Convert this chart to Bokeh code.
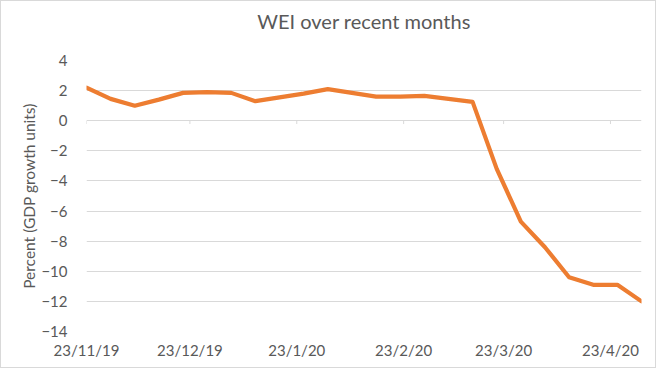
from datetime import datetime
from bokeh.plotting import figure
from bokeh.models import Range1d, FixedTicker, Title
from bokeh.embed import file_html
from bokeh.resources import INLINE

# ---- data ----
week_dates = ["2019-11-23", "2019-11-30", "2019-12-07", "2019-12-14", "2019-12-21",
              "2019-12-28", "2020-01-04", "2020-01-11", "2020-01-18", "2020-01-25",
              "2020-02-01", "2020-02-08", "2020-02-15", "2020-02-22", "2020-02-29",
              "2020-03-07", "2020-03-14", "2020-03-21", "2020-03-28", "2020-04-04",
              "2020-04-11", "2020-04-18", "2020-04-25", "2020-05-02"]
wei_values = [2.2, 1.45, 1.0, 1.4, 1.85, 1.9, 1.85, 1.3, 1.55, 1.8,
              2.1, 1.85, 1.6, 1.6, 1.65, 1.45, 1.25, -3.2, -6.7, -8.4,
              -10.4, -10.9, -10.9, -12.0]
tick_labels = ["23/11/19", "23/12/19", "23/1/20", "23/2/20", "23/3/20", "23/4/20"]
y_ticks = [-14, -12, -10, -8, -6, -4, -2, 0, 2, 4]

dates = [datetime.strptime(d, "%Y-%m-%d") for d in week_dates]
tick_dates = [datetime.strptime(t, "%d/%m/%y") for t in tick_labels]
epoch = datetime(1970, 1, 1)
tick_ms = [(t - epoch).total_seconds() * 1000 for t in tick_dates]

FONT = "Lato"
GREY = "#595959"
GRID = "#d9d9d9"

p = figure(width=656, height=368, x_axis_type="datetime",
           x_range=Range1d(dates[0], dates[-1]), y_range=Range1d(y_ticks[0], y_ticks[-1]),
           output_backend="svg", toolbar_location=None,
           min_border_left=85, min_border_right=16, min_border_top=59, min_border_bottom=38)

p.title.text = "WEI over recent months"
p.title.align = "center"
p.title.text_font = FONT
p.title.text_font_size = "20px"
p.title.text_font_style = "normal"
p.title.text_color = GREY
p.title.offset = 0
p.title.standoff = 0

# empty spacer title between the real title and the plot area
spacer = Title(text=" ", text_font_size="23px", standoff=0)
p.above = [spacer] + list(p.above)

p.outline_line_color = None
p.xgrid.grid_line_color = None
p.ygrid.grid_line_color = GRID
p.ygrid.grid_line_width = 1
p.yaxis.ticker = FixedTicker(ticks=y_ticks)
p.xaxis.ticker = FixedTicker(ticks=tick_ms)
p.xaxis.major_label_overrides = {tm: lab for tm, lab in zip(tick_ms, tick_labels)}

for ax in (p.xaxis[0], p.yaxis[0]):
    ax.axis_line_color = None
    ax.major_tick_line_color = None
    ax.minor_tick_line_color = None
    ax.major_tick_out = 0
    ax.major_tick_in = 0
    ax.major_label_text_font = FONT
    ax.major_label_text_font_size = "15px"
    ax.major_label_text_color = GREY

p.yaxis.major_label_standoff = 19
p.xaxis.major_label_standoff = 9
p.yaxis.axis_label = "Percent (GDP growth units)"
p.yaxis.axis_label_text_font = FONT
p.yaxis.axis_label_text_font_size = "15.5px"
p.yaxis.axis_label_text_font_style = "normal"
p.yaxis.axis_label_text_color = GREY
p.yaxis.axis_label_standoff = 0

# small tick marks hanging under the zero line (Excel category axis)
p.segment(x0=tick_dates, y0=[0] * len(tick_dates), x1=tick_dates, y1=[-0.22] * len(tick_dates),
          line_color=GRID, line_width=1)

p.line(dates, wei_values, line_color="#ED7D31", line_width=4.2,
       line_join="round", line_cap="round")

p.styles = {"border": "1px solid #d9d9d9", "box-sizing": "border-box"}

open("out.html", "w").write(file_html(p, INLINE))
